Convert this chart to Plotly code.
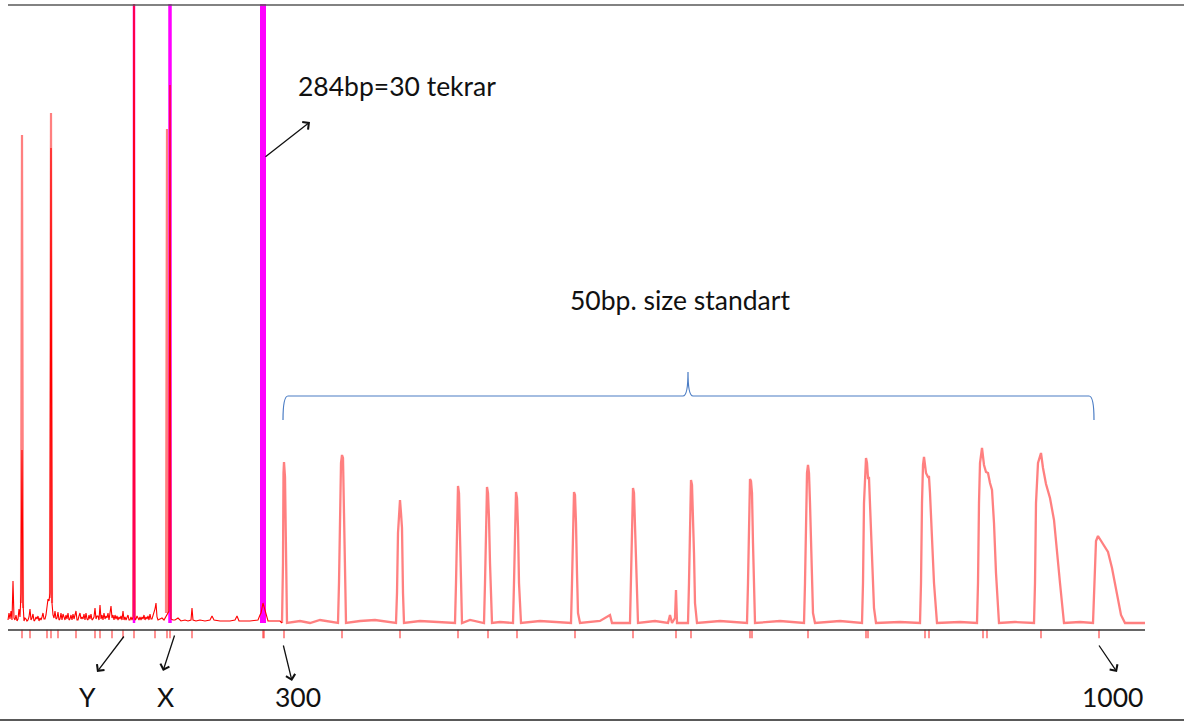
import plotly.graph_objects as go

# ---- data (x in scan units, y in signal intensity above baseline) ----
noise_x = [8, 9, 10, 11, 12, 13, 14, 15, 16, 17, 18, 19, 20, 21, 22, 23, 24, 25, 26, 27, 28, 29, 30, 31, 32,
           33, 34, 35, 36, 37, 38, 39, 40, 41, 42, 43, 44, 45, 46, 47, 48, 49, 50, 51, 52, 53, 54, 55, 56,
           57, 58, 59, 60, 61, 62, 63, 64, 65, 66, 67, 68, 69, 70, 71, 72, 73, 74, 75, 76, 77, 78, 79, 80,
           81, 82, 83, 84, 85, 86, 87, 88, 89, 90, 91, 92, 93, 94, 95, 96, 97, 98, 99, 100, 101, 102, 103,
           104, 105, 106, 107, 108, 109, 110, 111, 112, 113, 114, 115, 116, 117, 118, 119, 120, 121, 122,
           123, 124, 125, 126, 127, 128, 129, 130, 131, 132, 133, 134, 135, 136, 137, 138, 139, 140, 141,
           142, 143, 144, 145, 146, 147, 148, 149, 150, 151, 152, 153, 154, 155, 156, 157, 158, 160, 162,
           164, 166, 169, 170, 171, 173, 175, 178, 181, 185, 188, 191, 192, 193, 196, 200, 205, 210, 212,
           214, 220, 230, 235, 237, 239, 250, 258, 260, 261, 263, 266, 268, 275, 280, 282]
noise_y = [3, 10, 4, 12, 3, 42, 5, 3, 8, 2, 4, 14, 6, 30, 173, 20, 2, 5, 4, 2, 3, 6, 14, 3, 5,
           9, 2, 3, 6, 4, 7, 2, 5, 3, 6, 10, 4, 4, 8, 16, 24, 22, 30, 475, 20, 8, 5, 12, 4,
           5, 11, 3, 4, 10, 3, 9, 5, 3, 8, 4, 10, 3, 4, 8, 3, 9, 4, 7, 12, 3, 3, 7, 10,
           4, 6, 4, 9, 3, 10, 4, 3, 8, 4, 9, 3, 4, 6, 15, 4, 7, 7, 3, 18, 4, 8, 3,
           10, 4, 7, 5, 10, 3, 13, 17, 5, 8, 3, 8, 4, 7, 3, 6, 4, 7, 3,
           12, 3, 6, 3, 5, 8, 3, 3, 6, 3, 6, 700, 3, 4, 7, 4, 3, 6, 3,
           6, 4, 8, 3, 6, 4, 7, 3, 9, 4, 4, 7, 10, 14, 20, 6, 3, 4, 5,
           3, 7, 12, 538, 4, 3, 3, 5, 2, 3, 2, 3, 15, 3, 2, 3, 2, 3, 7,
           3, 2, 2, 3, 7, 2, 2, 3, 8, 10, 20, 8, 2, 2, 2, 0]

tall_x = [21, 22, 23, None, 50, 51, 52, None, 166, 167, 168]
tall_y = [20, 488, 15, None, 25, 510, 20, None, 10, 494, 10]

std_x = [282, 283, 283.5, 284, 285, 286, 287, 300, 310, 320, 330, 338, 339, 340, 341, 342, 343, 344, 345, 346,
         360, 375, 396, 397, 398, 400, 401, 402, 403, 404, 420, 440, 455, 456, 457, 458, 459, 460, 461, 462,
         470, 484, 485, 486, 487, 488, 489, 490, 491, 492, 500, 513, 514, 515, 516, 517, 518, 519, 520, 521,
         540, 555, 571, 572, 573, 574, 575, 576, 577, 578, 580, 600, 610, 612, 630, 631, 632, 633, 634, 635,
         636, 638, 655, 668, 670, 672, 675, 676, 677, 688, 689, 690, 691, 692, 693, 694, 695, 697,
         720, 747, 748, 749, 750, 751, 752, 753, 754, 755, 780, 804, 805, 806, 807, 808, 809, 810, 812, 813,
         815, 840, 862, 863, 864, 865, 866, 867, 868, 869, 870, 872, 874, 876,
         900, 920, 921, 922, 923, 924, 926, 928, 929, 930, 932, 934, 937,
         960, 977, 978, 979, 980, 982, 984, 986, 988, 990, 992, 994, 996, 999,
         1015, 1034, 1035, 1036, 1038, 1041, 1043, 1046, 1050, 1054, 1057, 1060, 1064,
         1080, 1093, 1094, 1095, 1096, 1098, 1101, 1104, 1108, 1112, 1115, 1118, 1121, 1125, 1145]
std_y = [0, 60, 150, 161, 146, 50, 0, 2, 0, 3, 1, 0, 40, 120, 160, 168, 165, 110, 30, 0,
         2, 3, 0, 30, 90, 123, 110, 95, 30, 0, 2, 1, 0, 40, 110, 137, 130, 90, 30, 0,
         3, 0, 40, 110, 136, 130, 105, 60, 20, 0, 1, 0, 40, 110, 131, 125, 95, 40, 10, 0,
         2, 1, 0, 40, 110, 131, 128, 100, 50, 10, 0, 2, 8, 0, 0, 40, 110, 135, 130, 100,
         50, 0, 2, 0, 8, 0, 5, 33, 0, 0, 40, 110, 143, 138, 110, 70, 20, 0,
         2, 0, 40, 110, 144, 142, 130, 80, 20, 0, 2, 0, 40, 120, 150, 158, 150, 120, 40, 10,
         0, 2, 0, 40, 120, 155, 165, 160, 145, 145, 120, 60, 15, 0,
         1, 0, 40, 120, 158, 166, 150, 146, 146, 130, 90, 40, 0,
         1, 0, 40, 120, 160, 175, 158, 151, 150, 140, 133, 100, 50, 0,
         1, 0, 40, 120, 160, 170, 155, 139, 125, 103, 75, 40, 0,
         1, 0, 30, 65, 82, 87, 82, 78, 71, 55, 38, 23, 8, 0, 0]

sat_x = [134, 170, 263]            # saturated (off-scale) peaks
sat_top = [700, 700, 700]
sat_width = [2.5, 3.5, 6]

tick_x = [22, 30, 47, 51, 58, 76, 95, 100, 112, 123, 134, 155, 167, 170, 192, 263, 264, 284, 342, 400, 458,
          488, 517, 575, 633, 676, 691, 750, 752, 808, 866, 868, 925, 929, 983, 987, 1041, 1099]

labels = ["Y", "X", "300", "1000"]
label_x = [87, 165, 298, 1112]
arrow_head = [(97, -49), (163, -48), (292, -58), (1117, -49)]
arrow_tail = [(125, -12), (175, -11), (283, -21), (1098, -21)]

FONT = "Lato"
RED = "#ff0000"
LIGHT = "rgba(255,60,60,0.65)"
MAG = "#ff00ff"

fig = go.Figure()
for xv, top, w in zip(sat_x, sat_top, sat_width):
    fig.add_trace(go.Scatter(x=[xv, xv], y=[0, top], mode="lines",
                             line=dict(color=MAG, width=w), hoverinfo="skip"))
fig.add_trace(go.Scatter(x=tall_x, y=tall_y, mode="lines", connectgaps=False,
                         line=dict(color=LIGHT, width=2.2), hoverinfo="skip"))
fig.add_trace(go.Scatter(x=std_x, y=std_y, mode="lines",
                         line=dict(color=LIGHT, width=2.3), hoverinfo="skip"))
fig.add_trace(go.Scatter(x=noise_x, y=noise_y, mode="lines",
                         line=dict(color=RED, width=1.1), hoverinfo="skip"))
fig.add_trace(go.Scatter(x=tick_x, y=[-11] * len(tick_x), mode="markers",
                         marker=dict(symbol="line-ns", size=6, line=dict(color="rgba(255,40,40,0.85)", width=1.2)),
                         hoverinfo="skip"))

shapes = [
    dict(type="line", xref="x", yref="y", x0=8, x1=1184, y0=618, y1=618,
         line=dict(color="#595959", width=1.5), layer="above"),
    dict(type="line", xref="x", yref="y", x0=8, x1=1145, y0=-7, y1=-7,
         line=dict(color="#333333", width=1.5), layer="above"),
    dict(type="line", xref="x", yref="y", x0=0, x1=1184, y0=-97, y1=-97,
         line=dict(color="#222222", width=1.5), layer="above"),
    dict(type="path", xref="x", yref="y",
         path="M283,203 Q283,227 288,227 L683,227 Q688,227 688,251 Q688,227 693,227 L1089,227 Q1094,227 1094,203",
         line=dict(color="#4a7cc4", width=1.2)),
]

TXT = dict(family=FONT, size=26.5, color="#111111")
annotations = [
    dict(x=397, y=537, xref="x", yref="y", text="284bp=30 tekrar", showarrow=False, font=TXT),
    dict(x=680, y=323, xref="x", yref="y", text="50bp. size standart", showarrow=False, font=TXT),
    dict(x=310, y=501, ax=264, ay=465, xref="x", yref="y", axref="x", ayref="y", text="",
         showarrow=True, arrowhead=4, arrowsize=1.4, arrowwidth=1.3, arrowcolor="#111111"),
]
for lab, lx in zip(labels, label_x):
    annotations.append(dict(x=lx, y=-74, xref="x", yref="y", text=lab, showarrow=False, font=TXT))
for (hx, hy), (tx, ty) in zip(arrow_head, arrow_tail):
    annotations.append(dict(x=hx, y=hy, ax=tx, ay=ty, xref="x", yref="y", axref="x", ayref="y",
                            text="", showarrow=True, arrowhead=4, arrowsize=1.4, arrowwidth=1.3,
                            arrowcolor="#111111"))

fig.update_layout(
    width=1184, height=722,
    margin=dict(l=0, r=0, t=4, b=0),
    paper_bgcolor="white", plot_bgcolor="white",
    showlegend=False,
    xaxis=dict(range=[0, 1184], visible=False, fixedrange=True),
    yaxis=dict(range=[-99, 619], visible=False, fixedrange=True),
    shapes=shapes, annotations=annotations,
)
fig.write_html("out.html", config={"displayModeBar": False},
               post_script="document.body.style.margin='0';document.body.style.padding='0';")
